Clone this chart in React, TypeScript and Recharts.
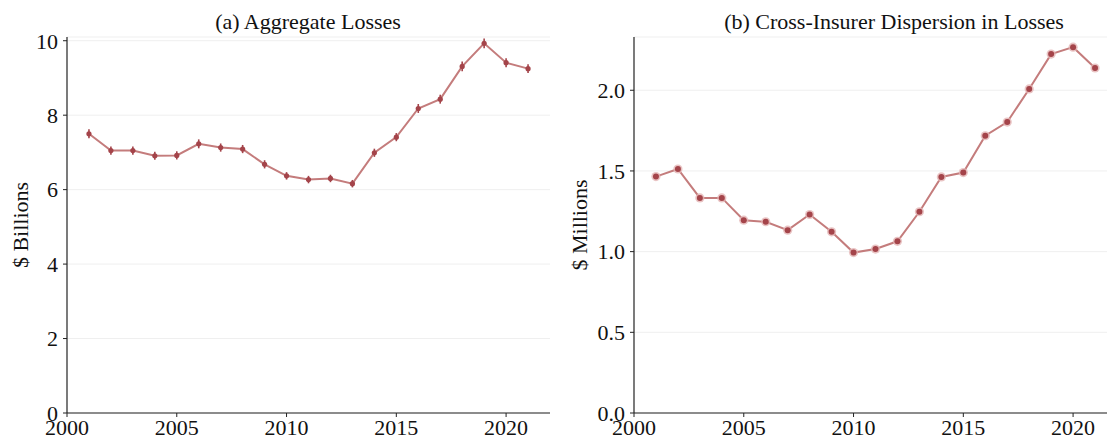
import { LineChart, Line, XAxis, YAxis, CartesianGrid, ErrorBar } from 'recharts'

const years = [
  2001, 2002, 2003, 2004, 2005, 2006, 2007, 2008, 2009, 2010, 2011,
  2012, 2013, 2014, 2015, 2016, 2017, 2018, 2019, 2020, 2021,
]

// aggregate losses, $ billions
const aggregateLosses = [
  7.5, 7.05, 7.05, 6.91, 6.92, 7.23, 7.13, 7.09, 6.68, 6.37, 6.27,
  6.3, 6.16, 6.99, 7.41, 8.18, 8.43, 9.31, 9.93, 9.41, 9.25,
]
const aggregateErr = [
  0.12, 0.11, 0.11, 0.11, 0.11, 0.12, 0.11, 0.11, 0.11, 0.1, 0.1,
  0.1, 0.1, 0.11, 0.11, 0.12, 0.12, 0.13, 0.13, 0.12, 0.12,
]

// cross-insurer dispersion, $ millions
const dispersion = [
  1.465, 1.512, 1.333, 1.333, 1.195, 1.185, 1.133, 1.23, 1.123, 0.994, 1.016,
  1.064, 1.247, 1.463, 1.49, 1.718, 1.803, 2.008, 2.224, 2.267, 2.138,
]

const yearTicks = [2000, 2005, 2010, 2015, 2020]
const lossTicks = [0, 2, 4, 6, 8, 10]
const dispersionTicks = [0, 0.5, 1, 1.5, 2]

const FONT = "'Liberation Serif', 'DejaVu Serif', serif"
const LINE = '#c47c7c'
const DOT = '#a4444a'
const tick = { fontSize: 22, fill: '#111', fontFamily: FONT }

const lossData = years.map((year, i) => ({
  year,
  value: aggregateLosses[i],
  err: aggregateErr[i],
}))
const dispersionData = years.map((year, i) => ({ year, value: dispersion[i] }))

function SmallDot(props: any) {
  const { cx, cy } = props
  if (cx == null || cy == null) return null
  return <circle cx={cx} cy={cy} r={2.6} fill={DOT} />
}

function HaloDot(props: any) {
  const { cx, cy } = props
  if (cx == null || cy == null) return null
  return (
    <g>
      <circle cx={cx} cy={cy} r={4.6} fill="#e3b5b5" opacity={0.8} />
      <circle cx={cx} cy={cy} r={3} fill={DOT} />
    </g>
  )
}

// rotated y-axis title; uses its own prop names so the axis doesn't overwrite them
function AxisTitle({ posX, posY, text }: { posX: number; posY: number; text: string }) {
  return (
    <text
      x={posX}
      y={posY}
      transform={`rotate(-90 ${posX} ${posY})`}
      textAnchor="middle"
      dominantBaseline="central"
      fontSize={22}
      fill="#111"
      fontFamily={FONT}
    >
      {text}
    </text>
  )
}

function Panel(props: {
  data: { year: number; value: number; err?: number }[]
  yTicks: number[]
  yMax: number
  yFormat: (v: number) => string
  yLabel: string
  yLabelX: number
  withErrors: boolean
}) {
  const { data, yTicks, yMax, yFormat, yLabel, yLabelX, withErrors } = props
  return (
    <LineChart
      width={560}
      height={443}
      data={data}
      margin={{ top: 37, right: 10, left: 0, bottom: 0 }}
    >
      <CartesianGrid vertical={false} stroke="#efefef" strokeWidth={1} />
      <XAxis
        dataKey="year"
        type="number"
        domain={[2000, 2022]}
        ticks={yearTicks}
        height={30}
        tick={tick}
        tickSize={4}
        tickMargin={2}
        axisLine={{ stroke: '#222', strokeWidth: 1.2 }}
        tickLine={{ stroke: '#222' }}
      />
      <YAxis
        type="number"
        domain={[0, yMax]}
        ticks={yTicks}
        width={67}
        tick={tick}
        tickSize={4}
        tickMargin={5}
        tickFormatter={yFormat}
        axisLine={{ stroke: '#222', strokeWidth: 1.2 }}
        tickLine={{ stroke: '#222' }}
        label={<AxisTitle posX={yLabelX} posY={225} text={yLabel} />}
      />
      <Line
        type="linear"
        dataKey="value"
        stroke={LINE}
        strokeWidth={2}
        dot={withErrors ? <SmallDot /> : <HaloDot />}
        activeDot={false}
        isAnimationActive={false}
      >
        {withErrors && (
          <ErrorBar
            dataKey="err"
            direction="y"
            width={0}
            stroke={DOT}
            strokeWidth={1.6}
            isAnimationActive={false}
          />
        )}
      </Line>
    </LineChart>
  )
}

const titleStyle: React.CSSProperties = {
  position: 'absolute',
  top: 8,
  fontFamily: FONT,
  fontSize: 22,
  color: '#111',
  whiteSpace: 'nowrap',
  transform: 'translateX(-50%)',
  lineHeight: '28px',
}

export default function App() {
  return (
    <div
      style={{
        position: 'absolute',
        left: 0,
        top: 0,
        width: 1107,
        height: 443,
        overflow: 'hidden',
        background: '#fff',
      }}
    >
      <div style={{ position: 'absolute', left: 0, top: 0 }}>
        <Panel
          data={lossData}
          yTicks={lossTicks}
          yMax={10.1}
          yFormat={(v) => String(v)}
          yLabel="$ Billions"
          yLabelX={20}
          withErrors
        />
      </div>
      <div style={{ position: 'absolute', left: 567, top: 0 }}>
        <Panel
          data={dispersionData}
          yTicks={dispersionTicks}
          yMax={2.33}
          yFormat={(v) => v.toFixed(1)}
          yLabel="$ Millions"
          yLabelX={12}
          withErrors={false}
        />
      </div>
      <div style={{ ...titleStyle, left: 308 }}>(a) Aggregate Losses</div>
      <div style={{ ...titleStyle, left: 894 }}>(b) Cross-Insurer Dispersion in Losses</div>
    </div>
  )
}
